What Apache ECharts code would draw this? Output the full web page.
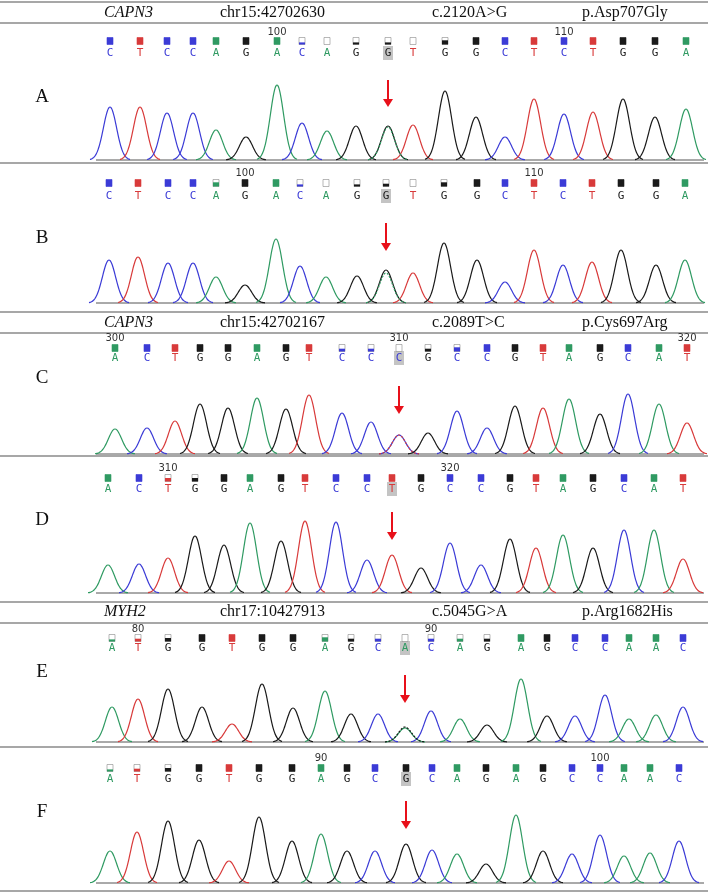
<!DOCTYPE html>
<html>
<head>
<meta charset="utf-8">
<script src="https://cdn.jsdelivr.net/npm/echarts@6/dist/echarts.min.js"></script>
<style>
  html, body { margin: 0; padding: 0; background: #fff; }
  #chart { width: 708px; height: 894px; }
</style>
</head>
<body>
<div id="chart"></div>
<script>
// base calls, peak positions (px) and peak heights (px)
var seqA = 'CTCCAGACAGGTGGCTCTGGA';
var posA = [110, 140, 167, 193, 216, 246, 277, 302, 327, 356, 388, 413, 445, 476, 505, 534, 564, 593, 623, 655, 686];
var hA = [53, 53, 47, 47, 30, 23, 75, 37, 29, 34, 34, 35, 69, 43, 23, 61, 46, 48, 61, 43, 51];
var fillA = [1, 1, 1, 1, 1, 1, 1, 0.3, 0, 0.3, 0.3, 0, 0.6, 1, 1, 1, 1, 1, 1, 1, 1];

var seqB = 'CTCCAGACAGGTGGCTCTGGA';
var posB = [109, 138, 168, 193, 216, 245, 276, 300, 326, 357, 386, 413, 444, 477, 505, 534, 563, 592, 621, 656, 685];
var hB = [43, 46, 40, 40, 26, 18, 64, 37, 26, 27, 33, 30, 60, 43, 21, 53, 38, 41, 53, 38, 43];
var fillB = [1, 1, 1, 1, 0.6, 1, 1, 0.3, 0, 0.3, 0.4, 0, 0.6, 1, 1, 1, 1, 1, 1, 1, 1];

var seqC = 'ACTGGAGTCCCGCCGTAGCAT';
var posC = [115, 147, 175, 200, 228, 257, 286, 309, 342, 371, 399, 428, 457, 487, 515, 543, 569, 600, 628, 659, 687];
var hC = [25, 26, 33, 50, 46, 56, 45, 59, 41, 32, 19, 21, 43, 26, 48, 46, 55, 40, 60, 50, 31];
var fillC = [1, 1, 1, 1, 1, 1, 1, 1, 0.4, 0.4, 0, 0.4, 0.6, 1, 1, 1, 1, 1, 1, 1, 1];

var seqD = 'ACTGGAGTCCTGCCGTAGCAT';
var posD = [108, 139, 168, 195, 224, 250, 281, 305, 336, 367, 392, 421, 450, 481, 510, 536, 563, 593, 624, 654, 683];
var hD = [28, 29, 35, 57, 48, 70, 52, 72, 71, 33, 38, 25, 50, 28, 54, 45, 58, 45, 63, 63, 34];
var fillD = [1, 1, 0.5, 0.5, 1, 1, 1, 1, 1, 1, 1, 1, 1, 1, 1, 1, 1, 1, 1, 1, 1];

var seqE = 'ATGGTGGAGCACAGAGCCAAC';
var posE = [112, 138, 168, 202, 232, 262, 293, 325, 351, 378, 405, 431, 460, 487, 521, 547, 575, 605, 629, 656, 683];
var hE = [35, 43, 53, 35, 18, 58, 34, 51, 28, 28, 14, 31, 23, 17, 63, 26, 26, 47, 23, 27, 35];
var fillE = [0.3, 0.4, 0.5, 1, 1, 1, 1, 0.6, 0.4, 0.4, 0, 0.4, 0.4, 0.4, 1, 1, 1, 1, 1, 1, 1];

var seqF = 'ATGGTGGAGCGCAGAGCCAAC';
var posF = [110, 137, 168, 199, 229, 259, 292, 321, 347, 375, 406, 432, 457, 486, 516, 543, 572, 600, 624, 650, 679];
var hF = [32, 51, 62, 43, 22, 66, 42, 49, 32, 32, 39, 33, 29, 19, 68, 32, 29, 48, 27, 30, 42];
var fillF = [0.3, 0.4, 0.5, 1, 1, 1, 1, 1, 1, 1, 1, 1, 1, 1, 1, 1, 1, 1, 1, 1, 1];

// secondary (heterozygous) peaks under the marked base: [index, base, height]
var extraA = [[10, 'A', 33]];
var extraB = [[10, 'A', 30]];
var extraC = [[10, 'T', 19]];
var extraE = [[10, 'G', 15]];

// base numbering shown above the calls: [index, label]
var numsA = [[6, '100'], [16, '110']];
var numsB = [[5, '100'], [15, '110']];
var numsC = [[0, '300'], [10, '310'], [20, '320']];
var numsD = [[2, '310'], [12, '320']];
var numsE = [[1, '80'], [11, '90']];
var numsF = [[7, '90'], [17, '100']];

var headers = [
  ['CAPN3', 'chr15:42702630', 'c.2120A>G', 'p.Asp707Gly'],
  ['CAPN3', 'chr15:42702167', 'c.2089T>C', 'p.Cys697Arg'],
  ['MYH2', 'chr17:10427913', 'c.5045G>A', 'p.Arg1682His']
];

var colors = { A: '#2f9a62', C: '#3b3bd6', G: '#1a1a1a', T: '#d83a3a' };

var panels = [
  { name: 'A', seq: seqA, pos: posA, h: hA, fill: fillA, extra: extraA, nums: numsA, base: 160, num: 32, sq: 41, let: 53, arrow: [80, 107], label: 97 },
  { name: 'B', seq: seqB, pos: posB, h: hB, fill: fillB, extra: extraB, nums: numsB, base: 303, num: 173, sq: 183, let: 196, arrow: [223, 251], label: 238 },
  { name: 'C', seq: seqC, pos: posC, h: hC, fill: fillC, extra: extraC, nums: numsC, base: 454, num: 338, sq: 348, let: 358, arrow: [386, 414], label: 378 },
  { name: 'D', seq: seqD, pos: posD, h: hD, fill: fillD, extra: [], nums: numsD, base: 593, num: 468, sq: 478, let: 489, arrow: [512, 540], label: 520 },
  { name: 'E', seq: seqE, pos: posE, h: hE, fill: fillE, extra: extraE, nums: numsE, base: 742, num: 629, sq: 638, let: 648, arrow: [675, 703], label: 672 },
  { name: 'F', seq: seqF, pos: posF, h: hF, fill: fillF, extra: [], nums: numsF, base: 883, num: 758, sq: 768, let: 779, arrow: [801, 829], label: 812 }
];

var grids = [], xAxes = [], yAxes = [], series = [];

panels.forEach(function (p, gi) {
  grids.push({ left: 90, right: 0, top: p.base - 100, height: 100 });
  xAxes.push({ gridIndex: gi, type: 'value', min: 90, max: 708, show: false });
  yAxes.push({ gridIndex: gi, type: 'value', min: 0, max: 100, show: false });

  var peaks = [];
  for (var i = 0; i < p.seq.length; i++) peaks.push([p.pos[i], p.h[i], p.seq[i], 0]);
  p.extra.forEach(function (e) { peaks.push([p.pos[e[0]], e[2], e[1], 1]); });

  // trace peaks
  series.push({
    type: 'custom', xAxisIndex: gi, yAxisIndex: gi, silent: true,
    data: peaks,
    renderItem: function (params, api) {
      var x = api.value(0), h = api.value(1);
      var base = peaks[params.dataIndex][2];
      var pts = [];
      for (var dx = -20; dx <= 20; dx += 1) {
        var y = h * Math.exp(-dx * dx / (2 * 6.6 * 6.6));
        pts.push(api.coord([x + dx, y]));
      }
      return {
        type: 'polyline',
        shape: { points: pts, smooth: 0.3 },
        style: { stroke: colors[base], lineWidth: 1.2, fill: null,
                 lineDash: peaks[params.dataIndex][3] ? [2, 1.5] : null }
      };
    }
  });

  // base calls: quality squares, letters, highlight
  var hi = 10;
  series.push({
    type: 'custom', xAxisIndex: gi, yAxisIndex: gi, silent: true,
    data: p.seq.split('').map(function (c, i) { return [p.pos[i], 0, i]; }),
    renderItem: function (params, api) {
      var i = api.value(2);
      var c = p.seq[i];
      var cx = api.coord([api.value(0), 0])[0];
      var f = p.fill[i];
      var kids = [];
      if (i === hi) {
        kids.push({ type: 'rect', shape: { x: cx - 5, y: p.let - 7, width: 10, height: 14 }, style: { fill: '#c4c4c4' } });
      }
      kids.push({ type: 'rect', shape: { x: cx - 3, y: p.sq - 3.5, width: 6, height: 7 },
                  style: { fill: '#fff', stroke: f < 1 ? '#888' : colors[c], lineWidth: 0.6 } });
      if (f > 0) {
        kids.push({ type: 'rect', shape: { x: cx - 3, y: p.sq + 3.5 - 7 * f, width: 6, height: 7 * f },
                    style: { fill: colors[c] } });
      }
      kids.push({ type: 'text', x: cx, y: p.let,
                  style: { text: c, fill: colors[c], font: '11px "DejaVu Sans Mono"', align: 'center', verticalAlign: 'middle' } });
      return { type: 'group', children: kids };
    }
  });

  // position numbers
  series.push({
    type: 'custom', xAxisIndex: gi, yAxisIndex: gi, silent: true,
    data: p.nums.map(function (n) { return [p.pos[n[0]], 0, n[1]]; }),
    renderItem: function (params, api) {
      var cx = api.coord([api.value(0), 0])[0];
      return { type: 'text', x: cx, y: p.num,
               style: { text: p.nums[params.dataIndex][1], fill: '#333', font: '10px "DejaVu Sans"', align: 'center', verticalAlign: 'middle' } };
    }
  });

  // arrow over the variant
  series.push({
    type: 'custom', xAxisIndex: gi, yAxisIndex: gi, silent: true,
    data: [[p.pos[hi], 0]],
    renderItem: function (params, api) {
      var cx = api.coord([api.value(0), 0])[0];
      var a = p.arrow;
      return { type: 'group', children: [
        { type: 'line', shape: { x1: cx, y1: a[0], x2: cx, y2: a[1] - 6 }, style: { stroke: '#e8101a', lineWidth: 2 } },
        { type: 'polygon', shape: { points: [[cx - 5, a[1] - 8], [cx + 5, a[1] - 8], [cx, a[1]]] }, style: { fill: '#e8101a' } }
      ] };
    }
  });
});

var graphics = [];
function hline(y, w, c) {
  graphics.push({ type: 'line', shape: { x1: 0, y1: y, x2: 708, y2: y }, style: { stroke: c || '#8a8a8a', lineWidth: w || 1.5 } });
}
// header rows
[[2, 13, 23], [312, 323, 333], [602, 612, 623]].forEach(function (r, k) {
  hline(r[0]); hline(r[2]);
  var h = headers[k];
  var xs = [104, 220, 432, 582];
  h.forEach(function (t, j) {
    graphics.push({ type: 'text', x: xs[j], y: r[1],
      style: { text: t, fill: '#111', font: (j === 0 ? 'italic ' : '') + '16px "Liberation Serif"', verticalAlign: 'middle' } });
  });
});
hline(163); hline(456); hline(747); hline(891);
panels.forEach(function (p) {
  graphics.push({ type: 'line', shape: { x1: 96, y1: p.base, x2: 704, y2: p.base }, style: { stroke: '#555', lineWidth: 1 } });
  graphics.push({ type: 'text', x: 42, y: p.label,
    style: { text: p.name, fill: '#111', font: '19px "Liberation Serif"', align: 'center', verticalAlign: 'middle' } });
});

var chart = echarts.init(document.getElementById('chart'));
chart.setOption({
  animation: false,
  backgroundColor: '#fff',
  grid: grids, xAxis: xAxes, yAxis: yAxes,
  series: series,
  graphic: graphics
});
</script>
</body>
</html>
